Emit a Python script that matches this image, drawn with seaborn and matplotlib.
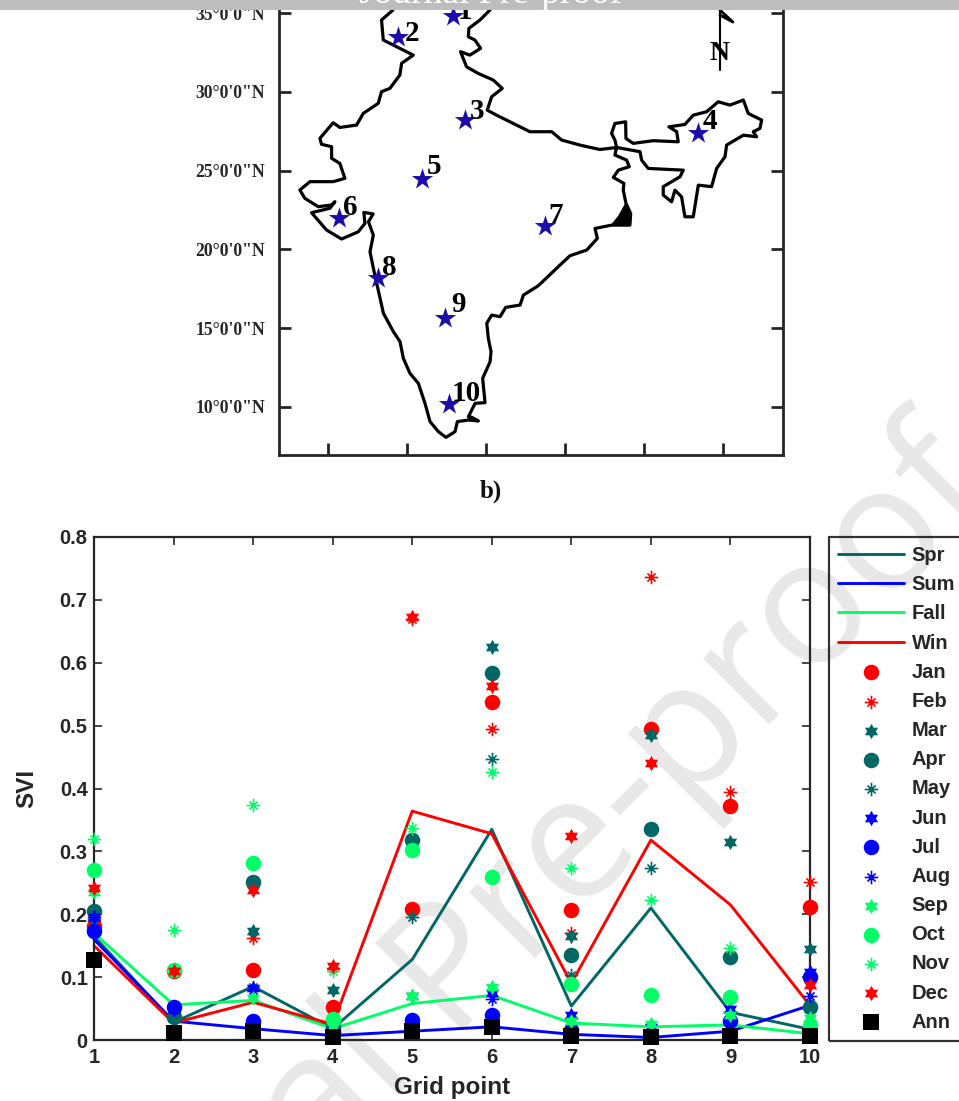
"""
Map of the grid points over India and monthly / seasonal SVI at each point.
"""

import numpy as np
import pandas as pd
import matplotlib
matplotlib.use("Agg")
import matplotlib.pyplot as plt
from matplotlib.path import Path
from matplotlib.patches import Rectangle
import seaborn as sns

# --- Data: map ---
outline_lon = [74.11, 73.39, 73.50, 74.55, 75.40, 74.66, 74.55, 73.92, 73.39, 73.18, 72.23, 71.81, 70.75, 70.33,
               69.49, 69.59, 70.23, 70.23, 70.75, 71.07, 70.33, 68.86, 68.22, 68.54, 69.38, 70.23, 70.44, 70.12,
               68.96, 69.91, 70.86, 71.92, 72.34, 72.27, 72.86, 72.56, 72.87, 72.66, 72.92, 73.30, 73.51, 74.14,
               74.56, 74.77, 75.19, 75.72, 76.14, 76.46, 76.99, 77.47, 78.04, 78.19, 78.89, 79.52, 79.10, 78.89,
               79.31, 79.94, 79.79, 80.26, 80.32, 80.15, 80.05, 80.36, 80.89, 81.25, 82.16, 82.37, 83.32, 84.69,
               85.32, 86.38, 87.05, 86.90, 87.95, 89.11, 89.16, 88.86, 88.69, 88.73, 88.06,
               88.38, 89.07, 88.90, 88.16, 88.27, 88.16, 87.95, 88.16, 88.84, 88.86, 89.32, 90.59, 92.17, 92.07,
               91.58, 92.59, 93.12, 93.97, 94.70, 95.44, 96.29, 96.60, 97.45, 97.34, 96.92, 97.13, 96.29, 95.23,
               95.13, 94.60, 94.28, 93.44, 93.12, 92.59, 92.38, 91.96, 91.75, 91.22, 91.22, 92.28, 92.49, 90.27,
               89.85, 89.75, 88.27, 87.21, 85.95, 84.79, 84.16, 82.78, 81.73, 80.67, 80.08, 80.36, 81.03, 80.46,
               79.51, 78.77, 78.39, 78.98, 79.66, 79.30, 78.88, 78.92, 79.62, 80.25, 80.20]
outline_lat = [35.19, 34.56, 33.29, 32.76, 32.33, 31.81, 31.07, 30.22, 30.01, 29.27, 28.63, 27.89, 27.74, 28.04,
               27.05, 26.67, 26.52, 25.78, 25.46, 24.51, 24.30, 24.30, 23.77, 23.24, 22.71, 22.82, 23.03, 22.61,
               22.33, 21.23, 20.66, 21.12, 21.65, 22.35, 22.25, 21.76, 20.91, 19.85, 18.58, 16.89, 15.94, 14.78,
               14.14, 13.09, 12.13, 11.50, 10.23, 9.07, 8.43, 8.07, 8.43, 9.07, 9.17, 9.11, 9.34, 9.38,
               10.23, 10.27, 11.82, 12.87, 13.51, 14.35, 15.31, 15.83, 15.73, 16.32, 16.47, 17.10, 17.70, 19.01,
               19.60, 19.96, 20.70, 21.33, 21.54, 21.54, 22.28, 22.92, 23.76, 24.19, 24.57,
               25.03, 25.25, 25.67, 25.99, 26.47, 26.94, 27.36, 27.99, 28.10, 27.04, 26.73, 26.90, 26.83, 27.47,
               27.78, 27.93, 28.52, 28.74, 29.37, 29.16, 29.48, 28.63, 28.21, 27.68, 27.47, 27.15, 27.25, 26.62,
               25.88, 25.14, 23.98, 24.08, 22.07, 22.07, 23.34, 23.76, 23.02, 23.45, 23.98, 24.61, 25.03, 25.14,
               25.67, 26.20, 26.47, 26.34, 26.62, 26.94, 27.47, 27.47, 27.99, 28.52, 28.84, 29.69, 30.22, 30.75,
               31.17, 31.59, 32.55, 32.33, 32.76, 33.29, 33.50, 34.03, 34.56, 35.19, 35.83]
delta_lon = [87.95, 89.11, 89.16, 88.86, 88.40]
delta_lat = [21.54, 21.54, 22.28, 22.92, 22.10]
star_lon = [77.91, 74.43, 78.67, 93.42, 75.95, 70.70, 83.73, 73.16, 77.41, 77.66]
star_lat = [34.81, 33.48, 28.21, 27.39, 24.47, 22.00, 21.47, 18.19, 15.67, 10.19]
star_names = ["1", "2", "3", "4", "5", "6", "7", "8", "9", "10"]
lat_ticks = [10, 15, 20, 25, 30, 35]
lat_labels = ["10°0'0\"N", "15°0'0\"N", "20°0'0\"N", "25°0'0\"N", "30°0'0\"N", "35°0'0\"N"]
lon_ticks = [70, 75, 80, 85, 90, 95]

# --- Data: SVI per grid point ---
grid = [1, 2, 3, 4, 5, 6, 7, 8, 9, 10]
spr = [0.165, 0.028, 0.085, 0.018, 0.128, 0.335, 0.054, 0.210, 0.044, 0.017]
sum_ = [0.160, 0.030, 0.018, 0.007, 0.014, 0.021, 0.009, 0.004, 0.014, 0.055]
fall = [0.170, 0.056, 0.063, 0.018, 0.058, 0.071, 0.027, 0.021, 0.024, 0.010]
win = [0.150, 0.027, 0.060, 0.025, 0.364, 0.328, 0.090, 0.318, 0.215, 0.055]
jan = [0.182, 0.110, 0.111, 0.052, 0.209, 0.537, 0.207, 0.495, 0.372, 0.212]
feb = [0.193, 0.110, 0.162, 0.115, 0.670, 0.495, 0.170, 0.737, 0.395, 0.252]
mar = [0.200, 0.035, 0.173, 0.080, 0.070, 0.625, 0.165, 0.485, 0.315, 0.145]
apr = [0.205, 0.037, 0.251, 0.020, 0.318, 0.584, 0.135, 0.336, 0.132, 0.052]
may = [0.190, 0.040, 0.085, 0.020, 0.195, 0.447, 0.103, 0.274, 0.045, 0.030]
jun = [0.195, 0.050, 0.083, 0.015, 0.030, 0.075, 0.040, 0.020, 0.050, 0.108]
jul = [0.173, 0.052, 0.030, 0.012, 0.032, 0.040, 0.016, 0.008, 0.030, 0.100]
aug = [0.195, 0.050, 0.080, 0.010, 0.020, 0.065, 0.035, 0.015, 0.045, 0.070]
sep = [0.235, 0.110, 0.067, 0.020, 0.070, 0.085, 0.030, 0.025, 0.040, 0.035]
oct_ = [0.271, 0.111, 0.282, 0.033, 0.302, 0.259, 0.089, 0.072, 0.069, 0.022]
nov = [0.319, 0.175, 0.374, 0.110, 0.337, 0.426, 0.274, 0.222, 0.147, 0.030]
dec = [0.241, 0.110, 0.238, 0.118, 0.672, 0.563, 0.325, 0.441, 0.007, 0.088]
ann = [0.128, 0.011, 0.015, 0.004, 0.015, 0.020, 0.006, 0.004, 0.007, 0.007]

df = pd.DataFrame({"grid": grid, "Spr": spr, "Sum": sum_, "Fall": fall, "Win": win,
                   "Jan": jan, "Feb": feb, "Mar": mar, "Apr": apr, "May": may, "Jun": jun,
                   "Jul": jul, "Aug": aug, "Sep": sep, "Oct": oct_, "Nov": nov, "Dec": dec, "Ann": ann})

# --- Styles ---
TEAL, BLUE, GREEN, RED = "#006666", "#0000ff", "#00ff66", "#ff0000"
W, H = 959, 1101
sns.set_theme(style="ticks")
plt.rcParams["font.family"] = ["Liberation Sans", "DejaVu Sans"]

# asterisk as in the original: long + with a shorter x over it
AST = Path([(-1, 0), (1, 0), (0, -1), (0, 1), (-.6, -.6), (.6, .6), (-.6, .6), (.6, -.6)],
           [Path.MOVETO, Path.LINETO] * 4)
# true hexagram, matplotlib's (6, 1, 0) star is too sharp
ang = np.deg2rad(np.arange(0, 360, 30) + 90)
rad = np.tile([1, 0.577], 6)
HEX = Path(np.column_stack([rad * np.cos(ang), rad * np.sin(ang)]), closed=False)
line_styles = {"Spr": TEAL, "Sum": BLUE, "Fall": GREEN, "Win": RED}
month_styles = {"Jan": (RED, "o"), "Feb": (RED, AST), "Mar": (TEAL, HEX), "Apr": (TEAL, "o"),
                "May": (TEAL, AST), "Jun": (BLUE, HEX), "Jul": (BLUE, "o"), "Aug": (BLUE, AST),
                "Sep": (GREEN, HEX), "Oct": (GREEN, "o"), "Nov": (GREEN, AST), "Dec": (RED, HEX),
                "Ann": ("black", "s")}

fig = plt.figure(figsize=(W / 100, H / 100), dpi=100, facecolor="white")


def box(x0, y0, x1, y1):
    return [x0 / W, 1 - y1 / H, (x1 - x0) / W, (y1 - y0) / H]


# --- Watermark ---
fig.text(478 / W, 1 - 965 / H, "Journal Pre-proof", color="#e8e8e8", fontsize=125, rotation=45,
         rotation_mode="anchor", ha="center", va="center", family="Open Sans", zorder=-5)

# --- Map panel ---
ax_map = fig.add_axes(box(279, 0, 783, 455), facecolor="none")
ax_map.plot(outline_lon, outline_lat, color="black", lw=2.3, solid_joinstyle="round")
ax_map.fill(delta_lon, delta_lat, color="black")
sns.scatterplot(x=star_lon, y=star_lat, ax=ax_map, marker="*", s=260, color="#1c0caa", linewidth=0, zorder=3)
offsets = [(12, 5), (14, 4), (12, 9), (12, 11), (12, 12), (11, 10), (11, 11), (11, 10), (13, 13), (17, 10)]
for name, lo, la, off in zip(star_names, star_lon, star_lat, offsets):
    ax_map.annotate(name, (lo, la), xytext=off, textcoords="offset pixels", ha="center", va="center",
                    family="Liberation Serif", fontweight="bold", fontsize=21, color="black")
ax_map.plot([94.81, 94.81], [31.38, 35.8], color="black", lw=1.5)
ax_map.plot([94.81, 95.63, 94.81], [35.19, 34.43, 34.87], color="black", lw=2)
ax_map.text(94.81, 32.46, "N", ha="center", va="center", family="Liberation Serif", fontweight="bold",
            fontsize=20, color="black")
ax_map.set_xlim(66.9, 98.8)
ax_map.set_ylim(6.95, 35.83)
ax_map.set_yticks(lat_ticks, lat_labels)
ax_map.set_xticks(lon_ticks, [""] * len(lon_ticks))
ax_map.tick_params(axis="both", direction="in", length=8.6, width=2, right=True, pad=10, labelsize=12.7)
for lab in ax_map.get_yticklabels():
    lab.set_family("Liberation Serif")
    lab.set_fontweight("bold")
for s in ax_map.spines.values():
    s.set_linewidth(2)
    s.set_visible(True)
fig.text(491 / W, 1 - 491 / H, "b)", ha="center", va="center", family="Liberation Serif",
         fontweight="bold", fontsize=18, color="#111111")

# --- SVI panel ---
ax = fig.add_axes(box(94, 537, 810, 1040), facecolor="none")
for name, color in line_styles.items():
    sns.lineplot(data=df, x="grid", y=name, ax=ax, color=color, lw=2.1, label=name, clip_on=False)
for name, (color, marker) in month_styles.items():
    if marker is AST:
        sns.scatterplot(data=df, x="grid", y=name, ax=ax, marker=marker, s=95, color=color, edgecolor=color,
                        linewidth=1.2, label=name, clip_on=False, zorder=4)
    else:
        size = {"o": 125, "s": 130}.get(marker, 120)
        sns.scatterplot(data=df, x="grid", y=name, ax=ax, marker=marker, s=size, color=color, edgecolor=color,
                        linewidth=0, label=name, clip_on=False, zorder=4)
ax.set_xlim(1, 10)
ax.set_ylim(0, 0.8)
ax.set_xticks(grid, star_names)
ax.set_yticks([0, 0.1, 0.2, 0.3, 0.4, 0.5, 0.6, 0.7, 0.8], ["0", "0.1", "0.2", "0.3", "0.4", "0.5", "0.6", "0.7", "0.8"])
ax.tick_params(axis="both", direction="in", length=5.5, width=1.2, top=True, right=True, labelsize=14.5, pad=4.5)
for lab in ax.get_xticklabels() + ax.get_yticklabels():
    lab.set_fontweight("bold")
ax.tick_params(axis="x", pad=6)
ax.set_xlabel("Grid point", fontsize=17.5, fontweight="bold", labelpad=6)
ax.set_ylabel("SVI", fontsize=17.5, fontweight="bold", labelpad=15.5)
for s in ax.spines.values():
    s.set_linewidth(1.6)
    s.set_visible(True)
leg = ax.legend(loc="upper left", bbox_to_anchor=(829 / W, 1 - 537 / H), bbox_transform=fig.transFigure,
                borderaxespad=0, frameon=True, fancybox=False, edgecolor="black", facecolor="none", framealpha=None,
                prop={"family": "Liberation Sans", "weight": "bold", "size": 14.5}, handlelength=3.25,
                handletextpad=0.4, borderpad=0.45, labelspacing=0.505, scatterpoints=1)
leg.get_frame().set_linewidth(1.6)

# --- Top banner cut by the page edge ---
fig.add_artist(Rectangle((0, 1 - 10 / H), 1, 10 / H, transform=fig.transFigure, color="#bdbdbd", lw=0, zorder=20))
fig.text(491 / W, 1 - 3 / H, "Journal Pre-proof", color="white", fontsize=27, family="Liberation Serif",
         ha="center", va="baseline", zorder=21)

fig.savefig("out.png", dpi=100)
